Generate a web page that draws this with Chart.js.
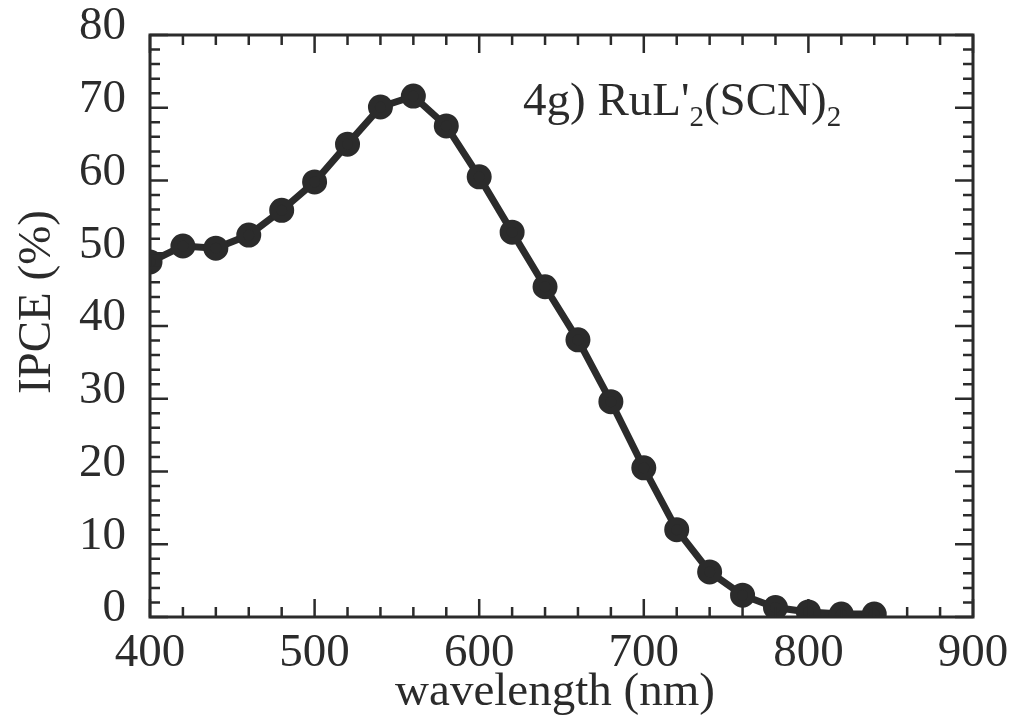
<!DOCTYPE html>
<html>
<head>
<meta charset="utf-8">
<script src="https://cdn.jsdelivr.net/npm/chart.js@4"></script>
<style>
  html, body { margin: 0; padding: 0; background: #fff; }
  #wrap { width: 1013px; height: 721px; }
</style>
</head>
<body>
<div id="wrap"><canvas id="ipceChart" width="1013" height="721"></canvas></div>
<script>
// wavelength (nm) and IPCE (%)
const wavelengths = [400, 420, 440, 460, 480, 500, 520, 540, 560, 580, 600, 620, 640, 660, 680, 700, 720, 740, 760, 780, 800, 820, 840];
const ipce = [48.8, 51.0, 50.7, 52.5, 55.9, 59.8, 65.0, 70.1, 71.6, 67.5, 60.5, 52.9, 45.4, 38.1, 29.6, 20.5, 12.0, 6.2, 3.0, 1.3, 0.7, 0.4, 0.4];
const xTicks = [400, 500, 600, 700, 800, 900];
const yTicks = [0, 10, 20, 30, 40, 50, 60, 70, 80];

const ink = "#2b2b2b";
const serif = "'Liberation Serif', 'Times New Roman', serif";

// frame with inward ticks on all four sides
const framePlugin = {
  id: "frame",
  afterDatasetsDraw(chart) {
    const ctx = chart.ctx;
    const a = chart.chartArea;
    const xs = chart.scales.x, ys = chart.scales.y;
    ctx.save();
    ctx.strokeStyle = ink;
    ctx.lineWidth = 3;
    ctx.strokeRect(a.left, a.top, a.right - a.left, a.bottom - a.top);
    ctx.lineWidth = 2.5;
    ctx.beginPath();
    for (let v = 400; v <= 900; v += 20) {
      const px = xs.getPixelForValue(v);
      const len = v % 100 === 0 ? 18 : 10;
      ctx.moveTo(px, a.bottom); ctx.lineTo(px, a.bottom - len);
      ctx.moveTo(px, a.top); ctx.lineTo(px, a.top + len);
    }
    for (let v = 0; v <= 80; v += 2) {
      const py = ys.getPixelForValue(v);
      const len = v % 10 === 0 ? 18 : 10;
      ctx.moveTo(a.left, py); ctx.lineTo(a.left + len, py);
      ctx.moveTo(a.right, py); ctx.lineTo(a.right - len, py);
    }
    ctx.stroke();
    ctx.restore();
  }
};

// axis titles and the "4g) RuL'2(SCN)2" label
const textPlugin = {
  id: "texts",
  afterDraw(chart) {
    const ctx = chart.ctx;
    ctx.save();
    ctx.fillStyle = ink;
    ctx.textBaseline = "alphabetic";

    ctx.font = "47px " + serif;
    ctx.textAlign = "center";
    ctx.fillText("wavelength (nm)", 555, 705);

    ctx.save();
    ctx.translate(50, 302);
    ctx.rotate(-Math.PI / 2);
    ctx.fillText("IPCE (%)", 0, 0);
    ctx.restore();

    ctx.textAlign = "left";
    const parts = [["4g) RuL'", false], ["2", true], ["(SCN)", false], ["2", true]];
    let x = 523, y = 115;
    parts.forEach(([t, sub]) => {
      ctx.font = (sub ? "29px " : "47px ") + serif;
      ctx.fillText(t, x, sub ? y + 11 : y);
      x += ctx.measureText(t).width;
    });
    ctx.restore();
  }
};

new Chart(document.getElementById("ipceChart").getContext("2d"), {
  type: "scatter",
  data: {
    datasets: [{
      data: wavelengths.map((w, i) => ({ x: w, y: ipce[i] })),
      showLine: true,
      borderColor: ink,
      backgroundColor: ink,
      borderWidth: 7,
      pointRadius: 9,
      pointHoverRadius: 9,
      tension: 0
    }]
  },
  options: {
    responsive: false,
    animation: false,
    events: [],
    layout: { padding: { top: 35, right: 40, left: 0, bottom: 0 } },
    plugins: { legend: { display: false }, tooltip: { enabled: false } },
    scales: {
      x: {
        type: "linear",
        min: 400, max: 900,
        afterBuildTicks: s => { s.ticks = xTicks.map(v => ({ value: v })); },
        afterFit: s => { s.height = 104; s.paddingLeft = 0; s.paddingRight = 0; },
        grid: { display: false, drawTicks: false },
        border: { display: false },
        ticks: { color: ink, font: { family: serif, size: 47 }, padding: 8, maxRotation: 0 }
      },
      y: {
        min: 0, max: 80,
        afterBuildTicks: s => { s.ticks = yTicks.map(v => ({ value: v })); },
        afterFit: s => { s.width = 150; s.paddingTop = 0; s.paddingBottom = 0; },
        grid: { display: false, drawTicks: false },
        border: { display: false },
        ticks: { color: ink, font: { family: serif, size: 47 }, padding: 24, labelOffset: -8 }
      }
    }
  },
  plugins: [framePlugin, textPlugin]
});
</script>
</body>
</html>
